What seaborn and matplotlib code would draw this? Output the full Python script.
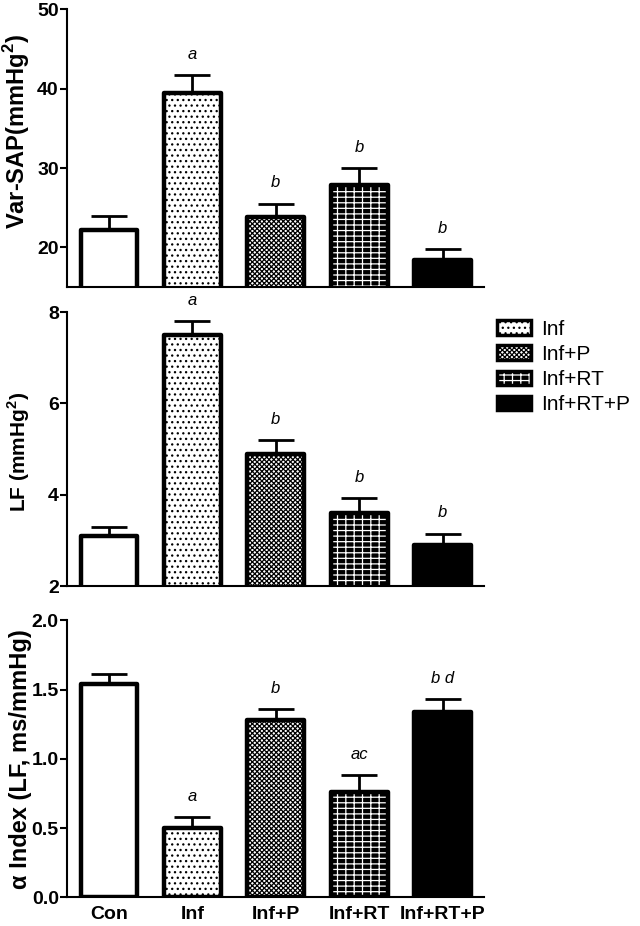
import numpy as np
import pandas as pd
import matplotlib.pyplot as plt
import matplotlib.patches as mpatches
from matplotlib.legend_handler import HandlerTuple
import seaborn as sns

# values (mean and upper SEM)
groups = ['Con', 'Inf', 'Inf+P', 'Inf+RT', 'Inf+RT+P']
var_sap = [22.2, 39.5, 23.8, 27.9, 18.4]
var_sap_err = [1.8, 2.2, 1.7, 2.1, 1.4]
lf = [3.1, 7.5, 4.9, 3.6, 2.9]
lf_err = [0.2, 0.3, 0.3, 0.32, 0.25]
alpha_idx = [1.54, 0.50, 1.28, 0.76, 1.34]
alpha_err = [0.07, 0.08, 0.08, 0.12, 0.09]
var_sap_sig = ['', 'a', 'b', 'b', 'b']
lf_sig = ['', 'a', 'b', 'b', 'b']
alpha_sig = ['', 'a', 'b', 'ac', 'b d']

face = ['white', 'white', 'white', 'black', 'black']
hatches = ['', '...', 'xxxxxxx', '---||', '']
hatch_col = ['black', 'black', 'black', 'white', 'black']

sns.set_style('ticks')
plt.rcParams['font.family'] = ['Liberation Sans', 'DejaVu Sans']
plt.rcParams['mathtext.fontset'] = 'custom'
plt.rcParams['mathtext.rm'] = 'Liberation Sans'
plt.rcParams['mathtext.bf'] = 'Liberation Sans:bold'
plt.rcParams['hatch.linewidth'] = 0.9
for k in ['text.color', 'axes.labelcolor', 'axes.edgecolor', 'xtick.color', 'ytick.color']:
    plt.rcParams[k] = 'black'

df = pd.DataFrame({'group': groups, 'var_sap': var_sap, 'lf': lf, 'alpha': alpha_idx})

fig = plt.figure(figsize=(6.4, 9.26), dpi=100)
ax1 = fig.add_axes([0.105, 0.690, 0.652, 0.300])
ax2 = fig.add_axes([0.105, 0.367, 0.652, 0.296])
ax3 = fig.add_axes([0.105, 0.031, 0.652, 0.299])

panels = [
    (ax1, 'var_sap', var_sap, var_sap_err, var_sap_sig, (15, 50), [20, 30, 40, 50],
     r'Var-SAP(mmHg$^\mathbf{2}$)', 17, 0.56),
    (ax2, 'lf', lf, lf_err, lf_sig, (2, 8), [2, 4, 6, 8], r'LF (mmHg$^\mathbf{2}$)', 15, 0.49),
    (ax3, 'alpha', alpha_idx, alpha_err, alpha_sig, (0, 2.0), [0, 0.5, 1.0, 1.5, 2.0],
     'α Index (LF, ms/mmHg)', 17, 0.5),
]

for ax, col, vals, errs, sig, ylim, yticks, ylabel, lsize, ly in panels:
    sns.barplot(data=df, x='group', y=col, ax=ax, color='white', width=0.68,
                errorbar=None, saturation=1)
    for i, p in enumerate(ax.patches):
        p.set_facecolor(face[i])
        p.set_hatch(hatches[i])
        p.set_edgecolor(hatch_col[i])
        p.set_linewidth(0)
        ax.add_patch(mpatches.Rectangle(p.get_xy(), p.get_width(), p.get_height(),
                                        fill=False, edgecolor='black', lw=3.2,
                                        joinstyle='round', zorder=p.get_zorder() + 0.1))
    x = np.arange(len(groups))
    ax.errorbar(x, vals, yerr=[np.zeros(len(vals)), errs], fmt='none', ecolor='black',
                elinewidth=2, capsize=13, capthick=2, zorder=1)
    for i, s in enumerate(sig):
        if s:
            ax.annotate(s, (x[i], vals[i] + errs[i]), xytext=(0, 15),
                        textcoords='offset points', ha='center', va='center',
                        style='italic', fontsize=12)
    ax.set_ylim(*ylim)
    ax.set_xlim(-0.5, 4.5)
    ax.set_yticks(yticks)
    if col == 'alpha':
        ax.set_yticklabels(['0.0', '0.5', '1.0', '1.5', '2.0'])
    ax.set_xlabel('')
    ax.set_ylabel(ylabel, fontsize=lsize, fontweight='bold')
    ax.yaxis.set_label_coords(-0.085, ly)
    sns.despine(ax=ax)
    ax.spines['left'].set_linewidth(1.5)
    ax.spines['bottom'].set_linewidth(1.5)
    ax.tick_params(axis='y', length=5, width=1.5, labelsize=14, pad=1)
    ax.tick_params(axis='x', length=0, labelsize=14, pad=6)
    for t in ax.get_yticklabels() + ax.get_xticklabels():
        t.set_fontweight('bold')
    if col != 'alpha':
        ax.set_xticklabels([])

# legend for treated groups
handles = []
for i in range(1, len(groups)):
    fill = mpatches.Patch(facecolor=face[i], hatch=hatches[i], edgecolor=hatch_col[i], lw=0)
    edge = mpatches.Patch(fill=False, edgecolor='black', lw=2.5, joinstyle='round')
    handles.append((fill, edge))
fig.legend(handles, groups[1:], loc='upper left', bbox_to_anchor=(0.748, 0.675),
           frameon=False, fontsize=15, handlelength=1.6, handleheight=0.7,
           labelspacing=0.3, handletextpad=0.5,
           handler_map={tuple: HandlerTuple(ndivide=1)})

fig.savefig('out.png', dpi=100)
